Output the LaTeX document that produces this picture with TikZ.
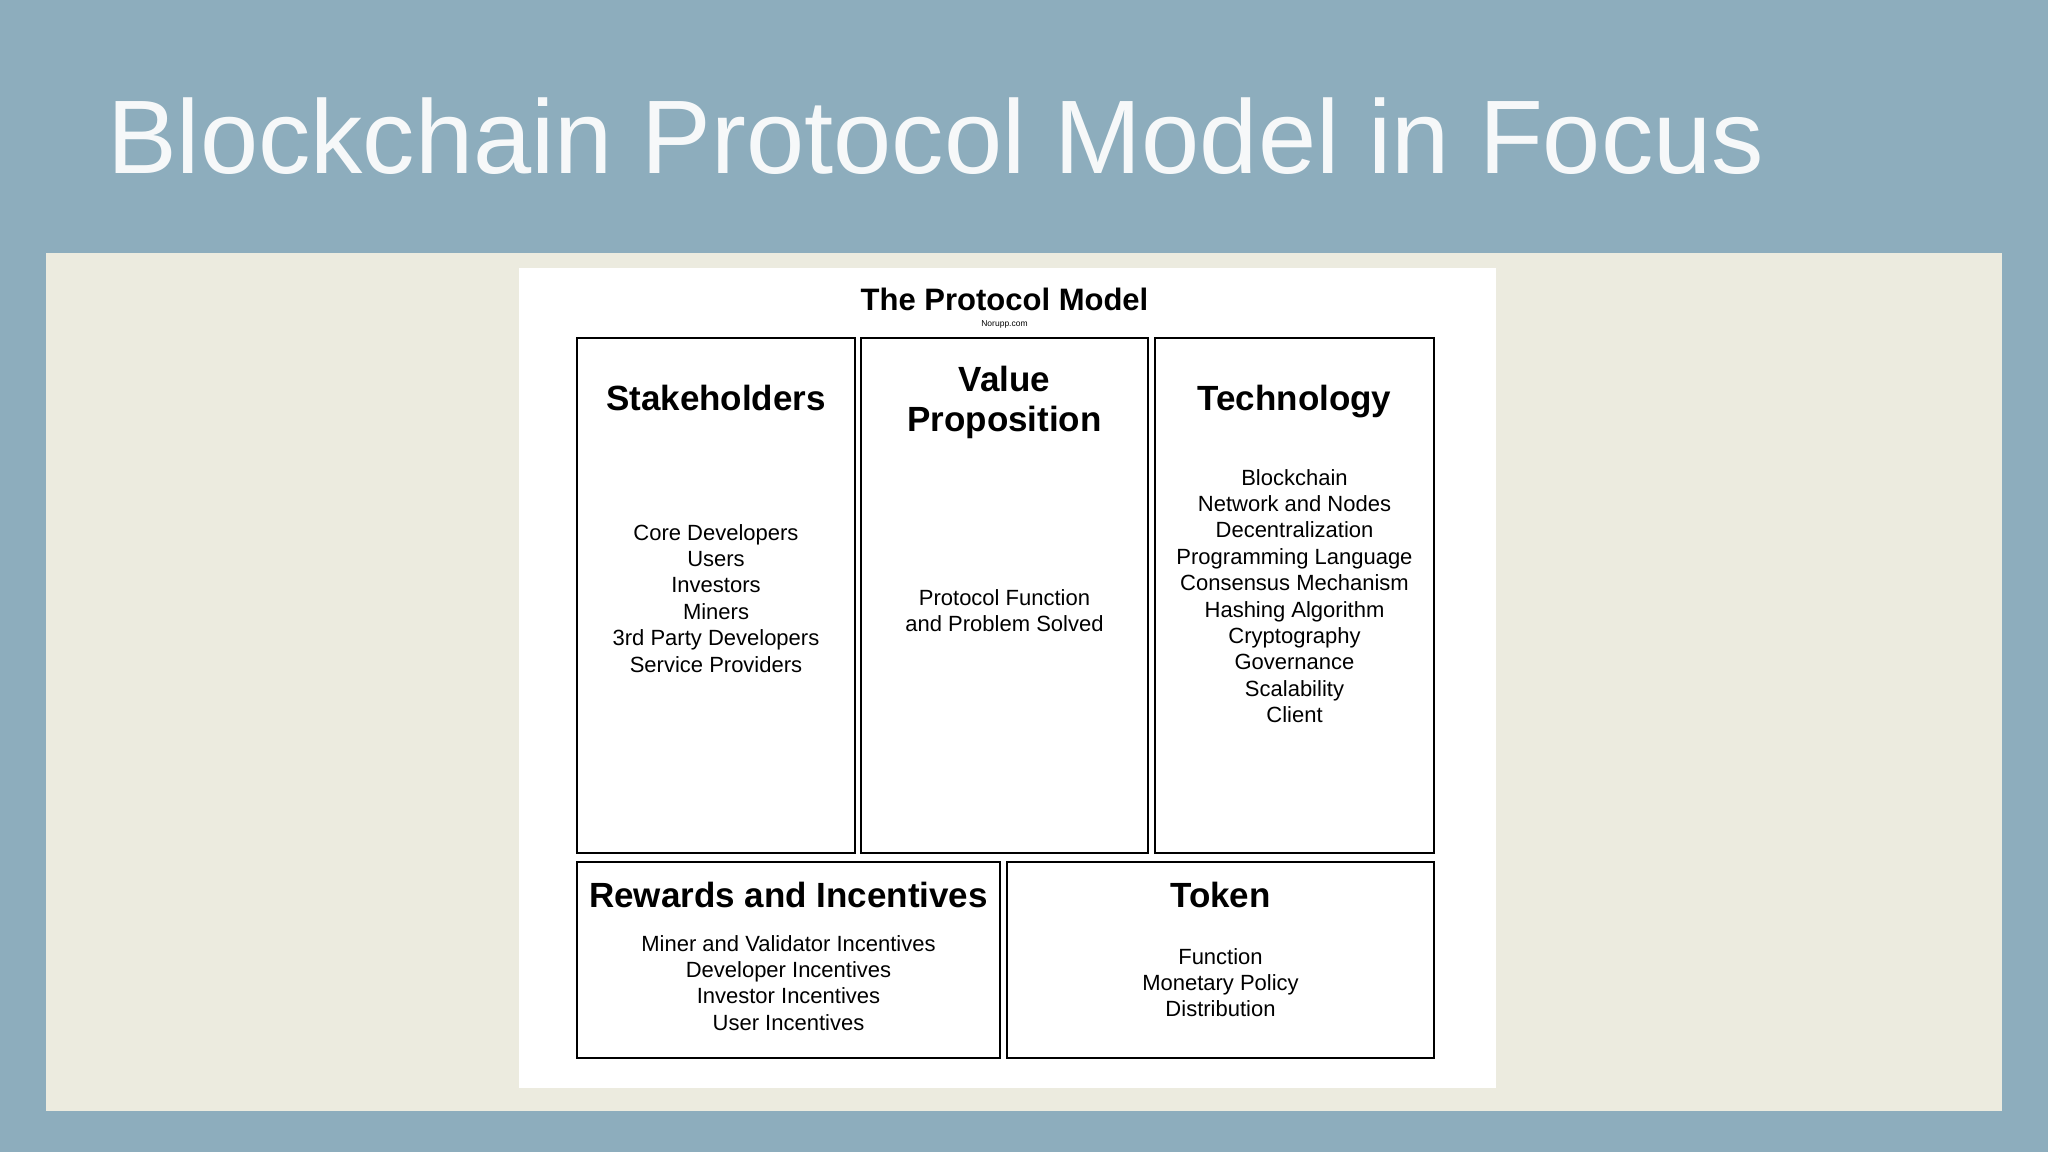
\documentclass[tikz,border=0pt]{standalone}
\usepackage{fontspec}
\setmainfont{Liberation Sans}
\definecolor{bgblue}{RGB}{141,173,189}
\definecolor{cream}{RGB}{236,235,223}
\definecolor{titlewhite}{RGB}{246,248,249}
\begin{document}
\begin{tikzpicture}[x=1pt,y=-1pt,
  cell/.style={draw=black, line width=2.4pt, inner sep=0pt},
  head/.style={anchor=base, inner sep=0pt, font=\bfseries\fontsize{35}{40}\selectfont},
  item/.style={anchor=base, inner sep=0pt, font=\fontsize{22}{26}\selectfont}]
\fill[bgblue] (0,0) rectangle (2048,1152);
\useasboundingbox (0,0) rectangle (2048,1152);
\fill[cream] (46,253) rectangle (2002,1111);
\node[fill=white, inner sep=0pt, minimum width=977pt, minimum height=820pt] (panel) at (1007.5,678) {};
\node[anchor=base west, inner sep=0pt, text=titlewhite, font=\fontsize{104.6}{110}\selectfont] (title) at (107,173) {Blockchain Protocol Model in Focus};
\node[anchor=base, inner sep=0pt, font=\bfseries\fontsize{31}{36}\selectfont] (ptitle) at (1004.5,310) {The Protocol Model};
\node[anchor=base, inner sep=0pt, font=\fontsize{8.5}{10}\selectfont] (src) at (1004.5,326) {Norupp.com};
% boxes
\node[cell, minimum width=278pt, minimum height=515pt] (stake) at (716,595.5) {};
\node[cell, minimum width=287pt, minimum height=515pt] (value) at (1004.5,595.5) {};
\node[cell, minimum width=279pt, minimum height=515pt] (tech) at (1294.5,595.5) {};
\node[cell, minimum width=423pt, minimum height=196pt] (rewards) at (788.5,960) {};
\node[cell, minimum width=427pt, minimum height=196pt] (token) at (1220.5,960) {};
% headings
\node[head] (stakeH) at (716,410.5) {Stakeholders};
\node[head] (valueH1) at (1004.5,391.5) {Value};
\node[head] (valueH2) at (1004.5,431.5) {Proposition};
\node[head] (techH) at (1294.5,410.5) {Technology};
\node[head] (rewardsH) at (788.5,907.5) {Rewards and Incentives};
\node[head] (tokenH) at (1220.5,907.5) {Token};
% lists
\foreach \t [count=\i from 0] in {Core Developers,Users,Investors,Miners,3rd Party Developers,Service Providers}
  \node[item] (stake\i) at (716,540+26.4*\i) {\t};
\foreach \t [count=\i from 0] in {Protocol Function,and Problem Solved}
  \node[item] (value\i) at (1004.5,605+26.4*\i) {\t};
\foreach \t [count=\i from 0] in {Blockchain,Network and Nodes,Decentralization,Programming Language,Consensus Mechanism,Hashing Algorithm,Cryptography,Governance,Scalability,Client}
  \node[item] (tech\i) at (1294.5,485+26.4*\i) {\t};
\foreach \t [count=\i from 0] in {Miner and Validator Incentives,Developer Incentives,Investor Incentives,User Incentives}
  \node[item] (rew\i) at (788.5,951+26.4*\i) {\t};
\foreach \t [count=\i from 0] in {Function,Monetary Policy,Distribution}
  \node[item] (tok\i) at (1220.5,964+26.4*\i) {\t};
\end{tikzpicture}
\end{document}
